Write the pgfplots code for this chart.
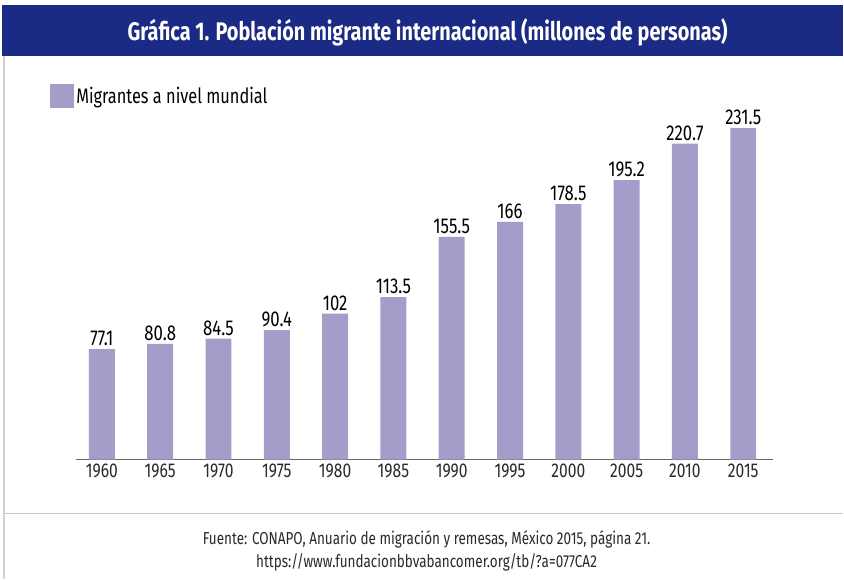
\documentclass[border=0pt]{standalone}
\usepackage{pgfplots}
\pgfplotsset{compat=1.18}
\usepackage{fontspec}
\setmainfont{Fira Sans}[FakeStretch=0.78]
\definecolor{titleblue}{HTML}{1B2A84}
\definecolor{barcol}{HTML}{A59DC9}
\definecolor{txt}{HTML}{2A2A2A}
\begin{document}
\begin{tikzpicture}[x=1pt,y=1pt]
\fill[white] (0,0) rectangle (844,580);
\fill[titleblue] (2,524) rectangle (844,575);
\fill[black!18] (3,0) rectangle (5.5,524);
\draw[black!22, line width=1.6pt] (4,66) -- (844,66);
\node[text=white, font=\bfseries\fontsize{25.5}{28}\selectfont] at (428,548) {Gráfica 1. Población migrante internacional (millones de personas)};
\node[text=txt, font=\fontsize{17.3}{20}\selectfont, align=center, inner sep=0] at (427,29) {Fuente: CONAPO, Anuario de migración y remesas, México 2015, página 21.\\[3pt] https://www.fundacionbbvabancomer.org/tb/?a=077CA2};
\begin{axis}[
  at={(76pt,120pt)}, anchor=south west,
  scale only axis, width=698pt, height=358.2pt,
  xmin=-0.445, xmax=11.515, ymin=0, ymax=250,
  axis x line*=bottom, axis y line=none,
  x axis line style={draw=black!60, line width=1.2pt, -},
  xtick=data, xticklabels={1960,1965,1970,1975,1980,1985,1990,1995,2000,2005,2010,2015},
  major tick length=0pt,
  xticklabel style={text=txt, font=\fontsize{20}{24}\selectfont, yshift=-1pt},
  /pgf/number format/assume math mode=true,
  ybar, bar width=26pt, bar shift=0pt,
  nodes near coords,
  nodes near coords style={text=black, font=\fontsize{21.5}{24}\selectfont, inner sep=1pt, yshift=2pt},
  point meta=explicit symbolic,
  legend style={at={(-0.037,1.05)}, anchor=north west, draw=none, fill=none, inner sep=0pt,
    font=\fontsize{21}{24}\selectfont, text=black, legend cell align=left},
  legend image code/.code={\fill[barcol] (0pt,-12pt) rectangle (24pt,12pt);},
]
\addplot[fill=barcol, draw=none] table[meta=lab] {
x y lab
0 77.1 77.1
1 80.8 80.8
2 84.5 84.5
3 90.4 90.4
4 102 102
5 113.5 113.5
6 155.5 155.5
7 166 166
8 178.5 178.5
9 195.2 195.2
10 220.7 220.7
11 231.5 231.5
};
\addlegendentry{Migrantes a nivel mundial}
\end{axis}
\end{tikzpicture}
\end{document}
